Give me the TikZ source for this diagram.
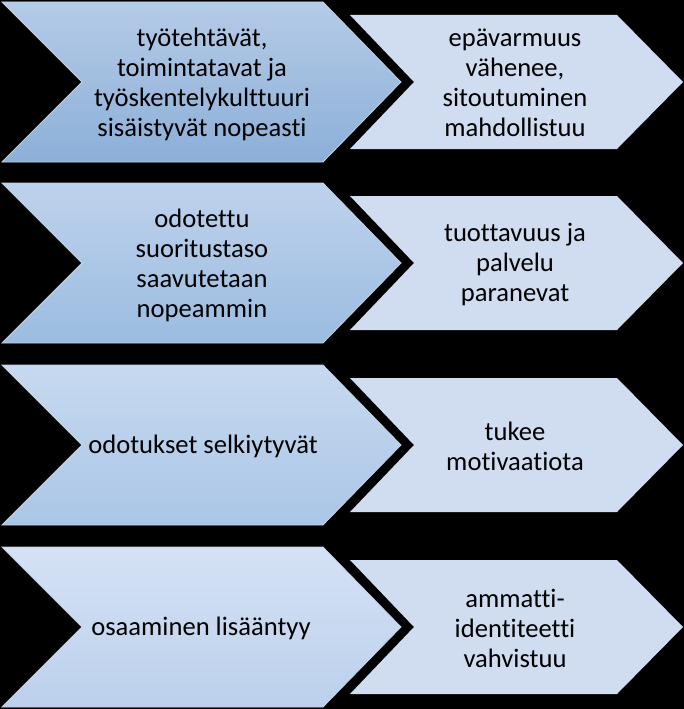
\documentclass[tikz,border=0pt]{standalone}
\usepackage{fontspec}
\setmainfont{Carlito}[Ligatures={NoCommon}]
\definecolor{rc}{RGB}{208,220,239}
\definecolor{edge}{RGB}{196,210,230}
\definecolor{aT}{RGB}{181,203,231}
\definecolor{aB}{RGB}{140,175,216}
\definecolor{bT}{RGB}{190,210,236}
\definecolor{bB}{RGB}{155,188,224}
\definecolor{cT}{RGB}{199,217,240}
\definecolor{cB}{RGB}{170,198,230}
\definecolor{dT}{RGB}{212,226,245}
\definecolor{dB}{RGB}{188,208,235}
\tikzset{
  lbl/.style={align=center,text=black,font=\fontsize{26.6}{30}\selectfont,inner sep=0pt},
  leftchev/.style={draw=edge,line width=0.8pt},
  rightchev/.style={fill=rc},
}
\begin{document}
\begin{tikzpicture}[x=1pt,y=-1pt]
\fill[black] (0,0) rectangle (684,709);
\useasboundingbox (0,0) rectangle (684,709);
% row centres
\foreach \c/\t/\b in {82/aT/aB,263/bT/bB,445/cT/cB,627/dT/dB}{
  \shade[leftchev,top color=\t,bottom color=\b]
    (2,\c-80) -- (323,\c-80) -- (401,\c) -- (323,\c+80) -- (2,\c+80) -- (82,\c) -- cycle;
  \fill[rightchev]
    (350,\c-67) -- (617,\c-67) -- (683,\c) -- (617,\c+67) -- (350,\c+67) -- (414,\c) -- cycle;
}
\node[lbl] (l1) at (202,84) {työtehtävät,\\toimintatavat ja\\työskentelykulttuuri\\sisäistyvät nopeasti};
\node[lbl] (r1) at (515,83) {epävarmuus\\vähenee,\\sitoutuminen\\mahdollistuu};
\node[lbl] (l2) at (202,265) {odotettu\\suoritustaso\\saavutetaan\\nopeammin};
\node[lbl] (r2) at (515,264) {tuottavuus ja\\palvelu\\paranevat};
\node[lbl] (l3) at (203,446) {odotukset selkiytyvät};
\node[lbl] (r3) at (515,446) {tukee\\motivaatiota};
\node[lbl] (l4) at (201,628) {osaaminen lisääntyy};
\node[lbl] (r4) at (515,628) {ammatti-\\identiteetti\\vahvistuu};
\end{tikzpicture}
\end{document}
